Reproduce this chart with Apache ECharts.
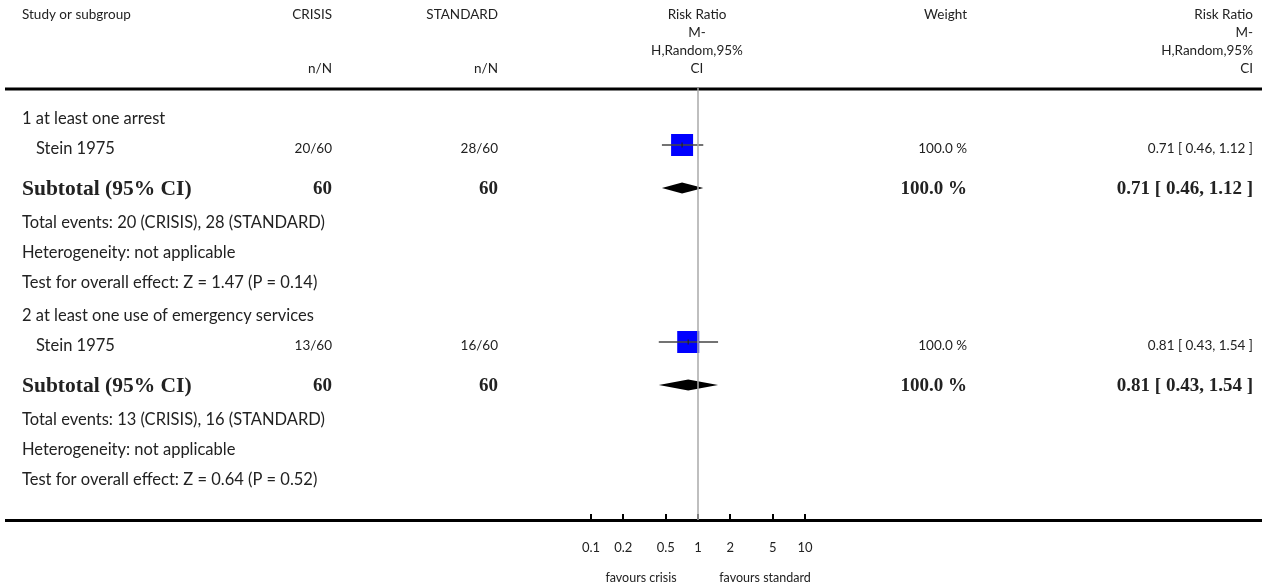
<!DOCTYPE html>
<html><head><meta charset="utf-8">
<script src="https://cdn.jsdelivr.net/npm/echarts@6/dist/echarts.min.js"></script>
<style>html,body{margin:0;padding:0;background:#fff}#c{width:1268px;height:588px}</style>
</head><body><div id="c"></div>
<script>
// ---- data ----
const subgroups = ['1 at least one arrest', '2 at least one use of emergency services'];
const studies = ['Stein 1975', 'Stein 1975'];
const crisisEvents = [20, 13];
const crisisTotal = [60, 60];
const standardEvents = [28, 16];
const standardTotal = [60, 60];
const riskRatio = [0.71, 0.81];
const ciLow = [0.46, 0.43];
const ciHigh = [1.12, 1.54];
const weights = [100.0, 100.0];
const zValues = [1.47, 0.64];
const pValues = [0.14, 0.52];
const tickValues = [0.1, 0.2, 0.5, 1, 2, 5, 10];
const favourLabels = ['favours crisis', 'favours standard'];
const headers = ['Study or subgroup', 'CRISIS', 'STANDARD', 'Risk Ratio', 'Weight', 'Risk Ratio'];

// ---- layout ----
const W = 1268, H = 588;
const GRID_TOP = 88, GRID_BOTTOM = 520;
const COL = { study: 22, indent: 36, crisis: 332, standard: 498, plot: 697, weight: 967, rr: 1253 };
const BLOCK_START = 119, BLOCK_H = 197;
const OFF = { sub: 0, study: 30, mark: 26, subtotal: 70, diamond: 69, events: 104, het: 134, test: 164 };
const FONT_HEAD = '13.5px Lato, "Open Sans", sans-serif';
const FONT_WORDS = '16.5px Lato, "Open Sans", sans-serif';
const FONT_NUM = '13.5px Lato, "Open Sans", sans-serif';
const BOLD_LABEL = 'bold 21.5px "Liberation Serif", "DejaVu Serif", serif';
const BOLD = 'bold 19px "Liberation Serif", "DejaVu Serif", serif';
const TXT = '#222';

function fmt(v, d) { return v.toFixed(d); }
function rrText(i) { return fmt(riskRatio[i], 2) + ' [ ' + fmt(ciLow[i], 2) + ', ' + fmt(ciHigh[i], 2) + ' ]'; }

const graphics = [];
function txt(text, x, y, align, font) {
  graphics.push({ type: 'text', x: x, y: y, silent: true,
    style: { text: text, fill: TXT, font: font || FONT_WORDS, textAlign: align || 'left', textVerticalAlign: 'middle' } });
}
function hline(y, w) {
  graphics.push({ type: 'line', silent: true, shape: { x1: 5, y1: y, x2: 1262, y2: y }, style: { stroke: '#000', lineWidth: w } });
}

// header
const HY = [15, 33, 51, 69];
txt(headers[0], COL.study, HY[0], 'left', FONT_HEAD);
txt(headers[1], COL.crisis, HY[0], 'right', FONT_HEAD);
txt(headers[2], COL.standard, HY[0], 'right', FONT_HEAD);
txt(headers[3], COL.plot, HY[0], 'center', FONT_HEAD);
txt('M-', COL.plot, HY[1], 'center', FONT_HEAD);
txt('H,Random,95%', COL.plot, HY[2], 'center', FONT_HEAD);
txt('CI', COL.plot, HY[3], 'center', FONT_HEAD);
txt(headers[4], COL.weight, HY[0], 'right', FONT_HEAD);
txt(headers[5], COL.rr, HY[0], 'right', FONT_HEAD);
txt('M-', COL.rr, HY[1], 'right', FONT_HEAD);
txt('H,Random,95%', COL.rr, HY[2], 'right', FONT_HEAD);
txt('CI', COL.rr, HY[3], 'right', FONT_HEAD);
txt('n/N', COL.crisis, HY[3], 'right', FONT_HEAD);
txt('n/N', COL.standard, HY[3], 'right', FONT_HEAD);
hline(89, 3);
hline(520.5, 3);

const studyY = [], diamondY = [];
subgroups.forEach(function (name, i) {
  const b = BLOCK_START + i * BLOCK_H;
  txt(name, COL.study, b + OFF.sub);
  txt(studies[i], COL.indent, b + OFF.study);
  txt(crisisEvents[i] + '/' + crisisTotal[i], COL.crisis, b + OFF.study, 'right', FONT_NUM);
  txt(standardEvents[i] + '/' + standardTotal[i], COL.standard, b + OFF.study, 'right', FONT_NUM);
  txt(fmt(weights[i], 1) + ' %', COL.weight, b + OFF.study, 'right', FONT_NUM);
  txt(rrText(i), COL.rr, b + OFF.study, 'right', FONT_NUM);
  txt('Subtotal (95% CI)', COL.study, b + OFF.subtotal, 'left', BOLD_LABEL);
  txt(String(crisisTotal[i]), COL.crisis, b + OFF.subtotal, 'right', BOLD);
  txt(String(standardTotal[i]), COL.standard, b + OFF.subtotal, 'right', BOLD);
  txt(fmt(weights[i], 1) + ' %', COL.weight, b + OFF.subtotal, 'right', BOLD);
  txt(rrText(i), COL.rr, b + OFF.subtotal, 'right', BOLD);
  txt('Total events: ' + crisisEvents[i] + ' (CRISIS), ' + standardEvents[i] + ' (STANDARD)', COL.study, b + OFF.events);
  txt('Heterogeneity: not applicable', COL.study, b + OFF.het);
  txt('Test for overall effect: Z = ' + fmt(zValues[i], 2) + ' (P = ' + fmt(pValues[i], 2) + ')', COL.study, b + OFF.test);
  studyY.push(b + OFF.mark);
  diamondY.push(b + OFF.diamond);
});
txt(favourLabels[0], 641, 578, 'center', '12.5px Lato, sans-serif');
txt(favourLabels[1], 765, 578, 'center', '12.5px Lato, sans-serif');

const studyData = riskRatio.map(function (r, i) { return [r, ciLow[i], ciHigh[i], studyY[i], weights[i]]; });
const totalData = riskRatio.map(function (r, i) { return [r, ciLow[i], ciHigh[i], diamondY[i]]; });

const chart = echarts.init(document.getElementById('c'), null, { renderer: 'canvas' });
chart.setOption({
  animation: false,
  backgroundColor: '#fff',
  grid: { left: 591, right: W - 805, top: GRID_TOP, bottom: H - GRID_BOTTOM, containLabel: false },
  xAxis: {
    type: 'log', logBase: 10, min: 0.1, max: 10,
    axisLine: { show: false },
    splitLine: { show: false },
    axisTick: { show: true, inside: true, length: 6, lineStyle: { color: '#000', width: 2 }, customValues: tickValues },
    axisLabel: { customValues: tickValues, margin: 21, color: TXT, fontSize: 13, fontFamily: 'Lato, sans-serif',
      formatter: function (v) { return String(Math.round(v * 10) / 10); } }
  },
  yAxis: { type: 'value', min: GRID_TOP, max: GRID_BOTTOM, inverse: true, show: false },
  series: [
    {
      type: 'custom', name: 'studies', data: studyData, encode: { x: [0, 1, 2], y: 3 },
      renderItem: function (params, api) {
        const y = api.value(3);
        const c = api.coord([api.value(0), y]);
        const lo = api.coord([api.value(1), y]);
        const hi = api.coord([api.value(2), y]);
        const s = 22 * Math.sqrt(api.value(4) / 100);
        return { type: 'group', children: [
          { type: 'rect', shape: { x: c[0] - s / 2, y: c[1] - s / 2, width: s, height: s }, style: { fill: '#0000ff' } },
          { type: 'line', shape: { x1: lo[0], y1: c[1], x2: hi[0], y2: c[1] }, style: { stroke: '#444', lineWidth: 1.5 } },
          { type: 'line', shape: { x1: c[0], y1: c[1] - 2.5, x2: c[0], y2: c[1] + 2.5 }, style: { stroke: '#222', lineWidth: 1.2 } }
        ] };
      },
      markLine: { silent: true, symbol: 'none', label: { show: false },
        lineStyle: { color: '#aaa', width: 1.5, type: 'solid' }, data: [{ xAxis: 1 }] }
    },
    {
      type: 'custom', name: 'subtotals', data: totalData, encode: { x: [0, 1, 2], y: 3 },
      renderItem: function (params, api) {
        const y = api.value(3);
        const c = api.coord([api.value(0), y]);
        const lo = api.coord([api.value(1), y]);
        const hi = api.coord([api.value(2), y]);
        const h = 5.5;
        return { type: 'polygon', shape: { points: [[lo[0], c[1]], [c[0], c[1] - h], [hi[0], c[1]], [c[0], c[1] + h]] },
          style: { fill: '#000' } };
      }
    }
  ],
  graphic: graphics
});
</script>
</body></html>
